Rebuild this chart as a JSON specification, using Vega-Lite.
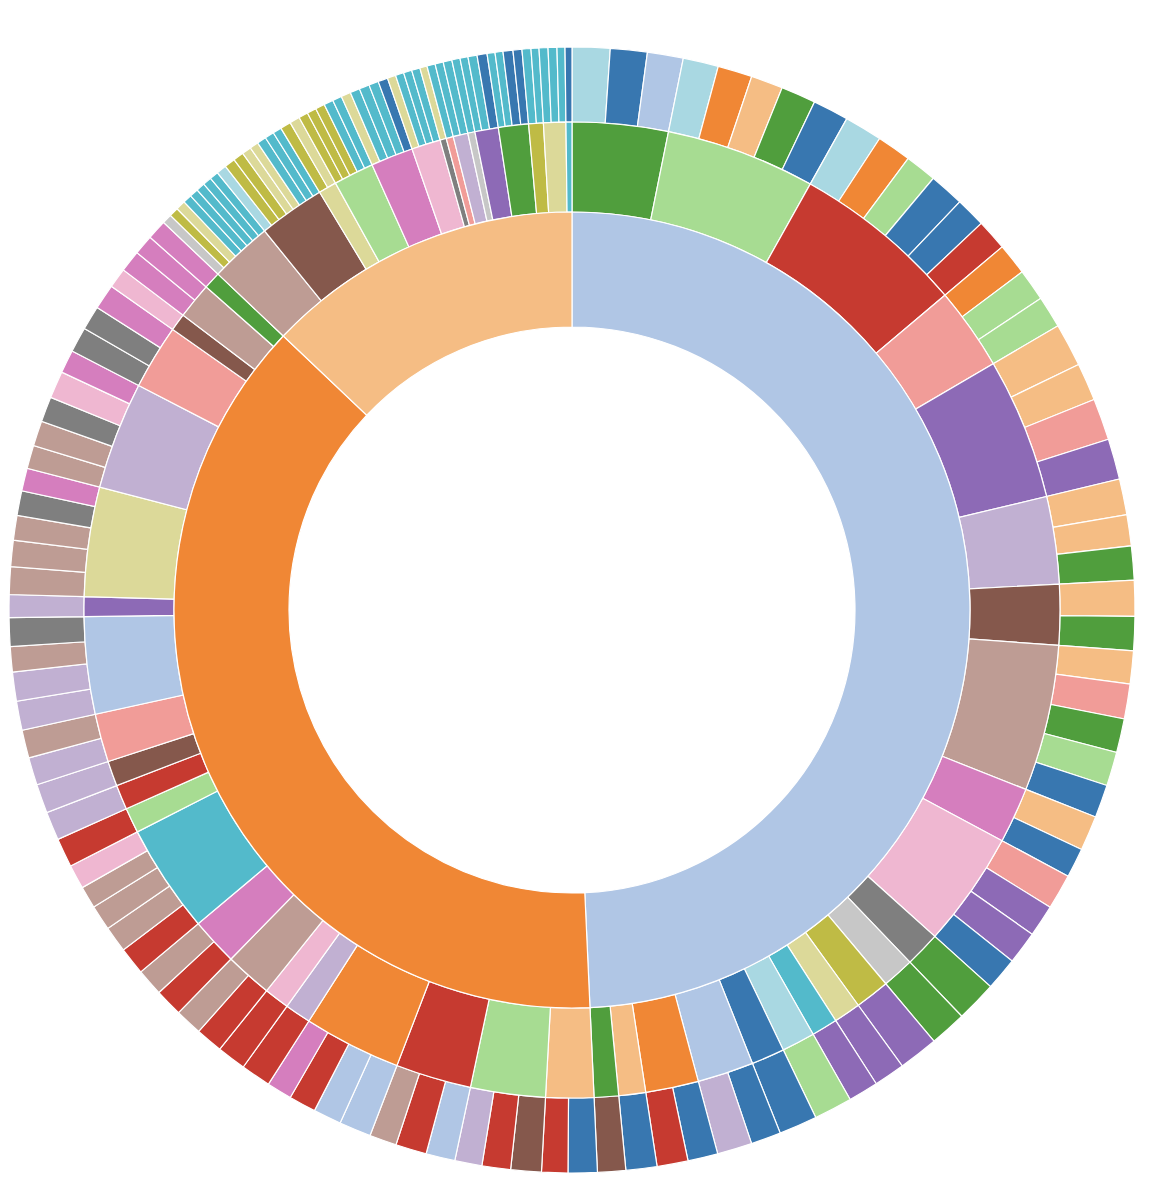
{
  "$schema": "https://vega.github.io/schema/vega-lite/v6.json",
  "width": 1144,
  "height": 1172,
  "autosize": {"type": "none"},
  "padding": {"left": 0, "top": 24, "right": 12, "bottom": 0},
  "background": "white",
  "config": {"view": {"stroke": null}},
  "data": {"values": [
    {"i":1,"a":"A","ka":1,"b":"A1","kb":4,"k":19,"v":3.9},
    {"i":2,"a":"A","ka":1,"b":"A1","kb":4,"k":0,"v":3.8},
    {"i":3,"a":"A","ka":1,"b":"A1","kb":4,"k":1,"v":3.7},
    {"i":4,"a":"A","ka":1,"b":"A2","kb":5,"k":19,"v":3.65},
    {"i":5,"a":"A","ka":1,"b":"A2","kb":5,"k":2,"v":3.55},
    {"i":6,"a":"A","ka":1,"b":"A2","kb":5,"k":3,"v":3.3},
    {"i":7,"a":"A","ka":1,"b":"A2","kb":5,"k":4,"v":3.6},
    {"i":8,"a":"A","ka":1,"b":"A2","kb":5,"k":0,"v":3.7},
    {"i":9,"a":"A","ka":1,"b":"A3","kb":6,"k":19,"v":3.9},
    {"i":10,"a":"A","ka":1,"b":"A3","kb":6,"k":2,"v":3.55},
    {"i":11,"a":"A","ka":1,"b":"A3","kb":6,"k":5,"v":3.25},
    {"i":12,"a":"A","ka":1,"b":"A3","kb":6,"k":0,"v":3.6},
    {"i":13,"a":"A","ka":1,"b":"A3","kb":6,"k":0,"v":3.1},
    {"i":14,"a":"A","ka":1,"b":"A3","kb":6,"k":6,"v":3.2},
    {"i":15,"a":"A","ka":1,"b":"A4","kb":7,"k":2,"v":3.25},
    {"i":16,"a":"A","ka":1,"b":"A4","kb":7,"k":5,"v":3.3},
    {"i":17,"a":"A","ka":1,"b":"A4","kb":7,"k":5,"v":3.3},
    {"i":18,"a":"A","ka":1,"b":"A5","kb":8,"k":3,"v":4.45},
    {"i":19,"a":"A","ka":1,"b":"A5","kb":8,"k":3,"v":3.9},
    {"i":20,"a":"A","ka":1,"b":"A5","kb":8,"k":7,"v":4.3},
    {"i":21,"a":"A","ka":1,"b":"A5","kb":8,"k":8,"v":4.2},
    {"i":22,"a":"A","ka":1,"b":"A6","kb":9,"k":3,"v":3.7},
    {"i":23,"a":"A","ka":1,"b":"A6","kb":9,"k":3,"v":3.2},
    {"i":24,"a":"A","ka":1,"b":"A6","kb":9,"k":4,"v":3.5},
    {"i":25,"a":"A","ka":1,"b":"A7","kb":10,"k":3,"v":3.7},
    {"i":26,"a":"A","ka":1,"b":"A7","kb":10,"k":4,"v":3.5},
    {"i":27,"a":"A","ka":1,"b":"A8","kb":11,"k":3,"v":3.4},
    {"i":28,"a":"A","ka":1,"b":"A8","kb":11,"k":7,"v":3.6},
    {"i":29,"a":"A","ka":1,"b":"A8","kb":11,"k":4,"v":3.5},
    {"i":30,"a":"A","ka":1,"b":"A8","kb":11,"k":5,"v":3.5},
    {"i":31,"a":"A","ka":1,"b":"A8","kb":11,"k":0,"v":3.4},
    {"i":32,"a":"A","ka":1,"b":"A9","kb":12,"k":3,"v":3.6},
    {"i":33,"a":"A","ka":1,"b":"A9","kb":12,"k":0,"v":3.05},
    {"i":34,"a":"A","ka":1,"b":"A10","kb":13,"k":7,"v":3.65},
    {"i":35,"a":"A","ka":1,"b":"A10","kb":13,"k":8,"v":3.3},
    {"i":36,"a":"A","ka":1,"b":"A10","kb":13,"k":8,"v":3.4},
    {"i":37,"a":"A","ka":1,"b":"A10","kb":13,"k":0,"v":3.4},
    {"i":38,"a":"A","ka":1,"b":"A11","kb":14,"k":4,"v":4.2},
    {"i":39,"a":"A","ka":1,"b":"A12","kb":15,"k":4,"v":3.8},
    {"i":40,"a":"A","ka":1,"b":"A13","kb":16,"k":8,"v":4.1},
    {"i":41,"a":"A","ka":1,"b":"A14","kb":17,"k":8,"v":3.2},
    {"i":42,"a":"A","ka":1,"b":"A15","kb":18,"k":8,"v":3.1},
    {"i":43,"a":"A","ka":1,"b":"A16","kb":19,"k":5,"v":3.95},
    {"i":44,"a":"A","ka":1,"b":"A17","kb":0,"k":0,"v":3.95},
    {"i":45,"a":"A","ka":1,"b":"A18","kb":1,"k":0,"v":3.1},
    {"i":46,"a":"A","ka":1,"b":"A18","kb":1,"k":9,"v":3.6},
    {"i":47,"a":"A","ka":1,"b":"A19","kb":2,"k":0,"v":3.1},
    {"i":48,"a":"A","ka":1,"b":"A19","kb":2,"k":6,"v":3.2},
    {"i":49,"a":"A","ka":1,"b":"A20","kb":3,"k":0,"v":3.2},
    {"i":50,"a":"A","ka":1,"b":"A21","kb":4,"k":10,"v":2.9},
    {"i":51,"a":"B","ka":2,"b":"B1","kb":3,"k":0,"v":3.0},
    {"i":52,"a":"B","ka":2,"b":"B1","kb":3,"k":6,"v":2.7},
    {"i":53,"a":"B","ka":2,"b":"B2","kb":5,"k":10,"v":3.15},
    {"i":54,"a":"B","ka":2,"b":"B2","kb":5,"k":6,"v":2.95},
    {"i":55,"a":"B","ka":2,"b":"B2","kb":5,"k":9,"v":2.8},
    {"i":56,"a":"B","ka":2,"b":"B3","kb":6,"k":1,"v":3.0},
    {"i":57,"a":"B","ka":2,"b":"B3","kb":6,"k":6,"v":3.2},
    {"i":58,"a":"B","ka":2,"b":"B3","kb":6,"k":11,"v":2.8},
    {"i":59,"a":"B","ka":2,"b":"B4","kb":2,"k":1,"v":3.3},
    {"i":60,"a":"B","ka":2,"b":"B4","kb":2,"k":1,"v":2.9},
    {"i":61,"a":"B","ka":2,"b":"B4","kb":2,"k":6,"v":2.8},
    {"i":62,"a":"B","ka":2,"b":"B4","kb":2,"k":12,"v":2.6},
    {"i":63,"a":"B","ka":2,"b":"B5","kb":9,"k":6,"v":3.1},
    {"i":64,"a":"B","ka":2,"b":"B6","kb":13,"k":6,"v":3.0},
    {"i":65,"a":"B","ka":2,"b":"B7","kb":11,"k":6,"v":2.8},
    {"i":66,"a":"B","ka":2,"b":"B7","kb":11,"k":11,"v":2.8},
    {"i":67,"a":"B","ka":2,"b":"B8","kb":12,"k":6,"v":2.86},
    {"i":68,"a":"B","ka":2,"b":"B8","kb":12,"k":11,"v":2.8},
    {"i":69,"a":"B","ka":2,"b":"B9","kb":18,"k":6,"v":2.85},
    {"i":70,"a":"B","ka":2,"b":"B9","kb":18,"k":11,"v":2.7},
    {"i":71,"a":"B","ka":2,"b":"B9","kb":18,"k":11,"v":2.6},
    {"i":72,"a":"B","ka":2,"b":"B9","kb":18,"k":11,"v":2.3},
    {"i":73,"a":"B","ka":2,"b":"B9","kb":18,"k":13,"v":2.5},
    {"i":74,"a":"B","ka":2,"b":"B10","kb":5,"k":6,"v":3.0},
    {"i":75,"a":"B","ka":2,"b":"B11","kb":6,"k":9,"v":2.95},
    {"i":76,"a":"B","ka":2,"b":"B12","kb":10,"k":9,"v":3.0},
    {"i":77,"a":"B","ka":2,"b":"B13","kb":7,"k":9,"v":2.85},
    {"i":78,"a":"B","ka":2,"b":"B13","kb":7,"k":11,"v":2.9},
    {"i":79,"a":"B","ka":2,"b":"B14","kb":1,"k":9,"v":3.0},
    {"i":80,"a":"B","ka":2,"b":"B14","kb":1,"k":9,"v":3.0},
    {"i":81,"a":"B","ka":2,"b":"B14","kb":1,"k":11,"v":2.6},
    {"i":82,"a":"B","ka":2,"b":"B14","kb":1,"k":14,"v":2.95},
    {"i":83,"a":"B","ka":2,"b":"B15","kb":8,"k":9,"v":2.35},
    {"i":84,"a":"B","ka":2,"b":"B16","kb":17,"k":11,"v":2.85},
    {"i":85,"a":"B","ka":2,"b":"B16","kb":17,"k":11,"v":2.7},
    {"i":86,"a":"B","ka":2,"b":"B16","kb":17,"k":11,"v":2.55},
    {"i":87,"a":"B","ka":2,"b":"B16","kb":17,"k":14,"v":2.55},
    {"i":88,"a":"B","ka":2,"b":"B16","kb":17,"k":12,"v":2.35},
    {"i":89,"a":"B","ka":2,"b":"B17","kb":9,"k":11,"v":2.4},
    {"i":90,"a":"B","ka":2,"b":"B17","kb":9,"k":11,"v":2.6},
    {"i":91,"a":"B","ka":2,"b":"B17","kb":9,"k":14,"v":2.6},
    {"i":92,"a":"B","ka":2,"b":"B17","kb":9,"k":13,"v":2.8},
    {"i":93,"a":"B","ka":2,"b":"B17","kb":9,"k":12,"v":2.4},
    {"i":94,"a":"B","ka":2,"b":"B18","kb":7,"k":14,"v":2.6},
    {"i":95,"a":"B","ka":2,"b":"B18","kb":7,"k":14,"v":2.5},
    {"i":96,"a":"B","ka":2,"b":"B18","kb":7,"k":12,"v":2.6},
    {"i":97,"a":"B","ka":2,"b":"B19","kb":10,"k":13,"v":2.07},
    {"i":98,"a":"B","ka":2,"b":"B20","kb":11,"k":12,"v":2.23},
    {"i":99,"a":"B","ka":2,"b":"B20","kb":11,"k":12,"v":2.05},
    {"i":100,"a":"B","ka":2,"b":"B21","kb":4,"k":12,"v":2.05},
    {"i":101,"a":"C","ka":3,"b":"C1","kb":11,"k":15,"v":1.0},
    {"i":102,"a":"C","ka":3,"b":"C1","kb":11,"k":16,"v":0.95},
    {"i":103,"a":"C","ka":3,"b":"C1","kb":11,"k":17,"v":1.0},
    {"i":104,"a":"C","ka":3,"b":"C1","kb":11,"k":18,"v":0.9},
    {"i":105,"a":"C","ka":3,"b":"C1","kb":11,"k":18,"v":0.9},
    {"i":106,"a":"C","ka":3,"b":"C1","kb":11,"k":18,"v":0.9},
    {"i":107,"a":"C","ka":3,"b":"C1","kb":11,"k":18,"v":0.9},
    {"i":108,"a":"C","ka":3,"b":"C1","kb":11,"k":18,"v":0.9},
    {"i":109,"a":"C","ka":3,"b":"C2","kb":10,"k":19,"v":1.05},
    {"i":110,"a":"C","ka":3,"b":"C2","kb":10,"k":16,"v":1.1},
    {"i":111,"a":"C","ka":3,"b":"C2","kb":10,"k":16,"v":1.1},
    {"i":112,"a":"C","ka":3,"b":"C2","kb":10,"k":17,"v":0.95},
    {"i":113,"a":"C","ka":3,"b":"C2","kb":10,"k":17,"v":0.9},
    {"i":114,"a":"C","ka":3,"b":"C2","kb":10,"k":18,"v":0.95},
    {"i":115,"a":"C","ka":3,"b":"C2","kb":10,"k":18,"v":0.95},
    {"i":116,"a":"C","ka":3,"b":"C2","kb":10,"k":18,"v":0.9},
    {"i":117,"a":"C","ka":3,"b":"C3","kb":17,"k":16,"v":1.1},
    {"i":118,"a":"C","ka":3,"b":"C3","kb":17,"k":17,"v":1.05},
    {"i":119,"a":"C","ka":3,"b":"C4","kb":5,"k":16,"v":0.96},
    {"i":120,"a":"C","ka":3,"b":"C4","kb":5,"k":16,"v":0.96},
    {"i":121,"a":"C","ka":3,"b":"C4","kb":5,"k":16,"v":0.96},
    {"i":122,"a":"C","ka":3,"b":"C4","kb":5,"k":18,"v":0.96},
    {"i":123,"a":"C","ka":3,"b":"C4","kb":5,"k":18,"v":0.96},
    {"i":124,"a":"C","ka":3,"b":"C5","kb":12,"k":17,"v":1.0},
    {"i":125,"a":"C","ka":3,"b":"C5","kb":12,"k":18,"v":1.0},
    {"i":126,"a":"C","ka":3,"b":"C5","kb":12,"k":18,"v":1.05},
    {"i":127,"a":"C","ka":3,"b":"C5","kb":12,"k":18,"v":1.0},
    {"i":128,"a":"C","ka":3,"b":"C5","kb":12,"k":0,"v":1.0},
    {"i":129,"a":"C","ka":3,"b":"C6","kb":13,"k":17,"v":0.87},
    {"i":130,"a":"C","ka":3,"b":"C6","kb":13,"k":18,"v":0.86},
    {"i":131,"a":"C","ka":3,"b":"C6","kb":13,"k":18,"v":0.86},
    {"i":132,"a":"C","ka":3,"b":"C6","kb":13,"k":18,"v":0.86},
    {"i":133,"a":"C","ka":3,"b":"C7","kb":14,"k":17,"v":0.75},
    {"i":134,"a":"C","ka":3,"b":"C8","kb":7,"k":18,"v":0.85},
    {"i":135,"a":"C","ka":3,"b":"C9","kb":9,"k":18,"v":0.85},
    {"i":136,"a":"C","ka":3,"b":"C9","kb":9,"k":18,"v":0.9},
    {"i":137,"a":"C","ka":3,"b":"C10","kb":15,"k":18,"v":0.85},
    {"i":138,"a":"C","ka":3,"b":"C11","kb":8,"k":18,"v":0.82},
    {"i":139,"a":"C","ka":3,"b":"C11","kb":8,"k":18,"v":0.94},
    {"i":140,"a":"C","ka":3,"b":"C11","kb":8,"k":0,"v":1.03},
    {"i":141,"a":"C","ka":3,"b":"C12","kb":4,"k":18,"v":0.82},
    {"i":142,"a":"C","ka":3,"b":"C12","kb":4,"k":18,"v":0.82},
    {"i":143,"a":"C","ka":3,"b":"C12","kb":4,"k":0,"v":1.02},
    {"i":144,"a":"C","ka":3,"b":"C12","kb":4,"k":0,"v":0.92},
    {"i":145,"a":"C","ka":3,"b":"C13","kb":16,"k":18,"v":0.92},
    {"i":146,"a":"C","ka":3,"b":"C13","kb":16,"k":18,"v":0.82},
    {"i":147,"a":"C","ka":3,"b":"C14","kb":17,"k":18,"v":0.92},
    {"i":148,"a":"C","ka":3,"b":"C14","kb":17,"k":18,"v":0.91},
    {"i":149,"a":"C","ka":3,"b":"C14","kb":17,"k":18,"v":0.82},
    {"i":150,"a":"C","ka":3,"b":"C15","kb":18,"k":0,"v":0.71}
  ]},
  "layer": [
    {
      "mark": {"type": "arc", "radius": 563, "radius2": 488, "stroke": "white", "strokeWidth": 1.2},
      "encoding": {
        "theta": {"field": "v", "type": "quantitative", "stack": true},
        "order": {"field": "i", "type": "quantitative"},
        "color": {"field": "k", "type": "nominal", "legend": null,
          "scale": {"domain": [0,1,2,3,4,5,6,7,8,9,10,11,12,13,14,15,16,17,18,19],
                    "range": ["#3877b0","#b0c6e5","#f08735","#f5bd84","#509e3d","#a7dc92","#c63a30","#f19c98","#8d6ab6","#c1b0d2","#85584c","#be9c94","#d57ebe","#efb7d1","#7f7f7f","#c7c7c7","#bfbb45","#dcd999","#53bacb","#a9d8e2"]}}
      }
    },
    {
      "transform": [{"aggregate": [{"op": "sum", "field": "v", "as": "v"}, {"op": "min", "field": "i", "as": "i"}], "groupby": ["b", "kb"]}],
      "mark": {"type": "arc", "radius": 488, "radius2": 398, "stroke": "white", "strokeWidth": 1.2},
      "encoding": {
        "theta": {"field": "v", "type": "quantitative", "stack": true},
        "order": {"field": "i", "type": "quantitative"},
        "color": {"field": "kb", "type": "nominal", "legend": null}
      }
    },
    {
      "transform": [{"aggregate": [{"op": "sum", "field": "v", "as": "v"}, {"op": "min", "field": "i", "as": "i"}], "groupby": ["a", "ka"]}],
      "mark": {"type": "arc", "radius": 398, "radius2": 283, "stroke": "white", "strokeWidth": 1.2},
      "encoding": {
        "theta": {"field": "v", "type": "quantitative", "stack": true},
        "order": {"field": "i", "type": "quantitative"},
        "color": {"field": "ka", "type": "nominal", "legend": null}
      }
    }
  ]
}
